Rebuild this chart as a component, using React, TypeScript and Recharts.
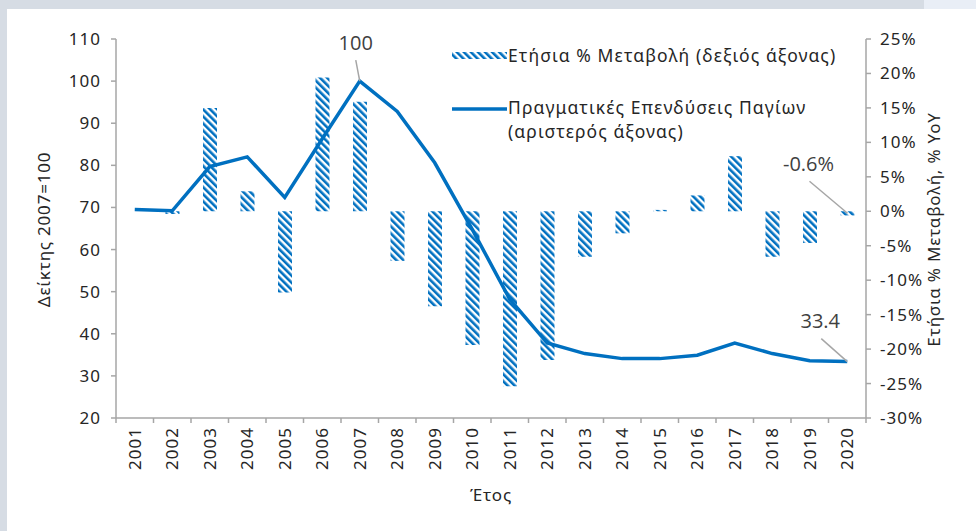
import { ComposedChart, Bar, Line, XAxis, YAxis, Legend, LabelList } from 'recharts';

const YEARS = [
  '2001', '2002', '2003', '2004', '2005', '2006', '2007', '2008', '2009', '2010',
  '2011', '2012', '2013', '2014', '2015', '2016', '2017', '2018', '2019', '2020',
];
// real fixed investment, index 2007=100 (left axis)
const INVESTMENT_INDEX = [
  69.5, 69.2, 79.7, 82.0, 72.4, 86.3, 100, 92.8, 80.6, 64.8,
  48.2, 37.8, 35.3, 34.1, 34.1, 34.9, 37.8, 35.3, 33.6, 33.4,
];
// annual % change (right axis)
const ANNUAL_CHANGE = [
  null, -0.4, 15.0, 2.9, -11.8, 19.4, 15.9, -7.2, -13.8, -19.4,
  -25.4, -21.6, -6.6, -3.2, 0.2, 2.3, 8.0, -6.6, -4.6, -0.6,
];
const LEFT_TICKS = [20, 30, 40, 50, 60, 70, 80, 90, 100, 110];
const RIGHT_TICKS = [-30, -25, -20, -15, -10, -5, 0, 5, 10, 15, 20, 25];

const data = YEARS.map((year, i) => ({
  year,
  index: INVESTMENT_INDEX[i],
  change: ANNUAL_CHANGE[i],
}));

const W = 976;
const H = 531;
const PLOT_LEFT = 116;
const PLOT_RIGHT = 866;
const PLOT_TOP = 39;
const PLOT_BOTTOM = 418;
const PLOT_MID_Y = (PLOT_TOP + PLOT_BOTTOM) / 2;
const BAND = (PLOT_RIGHT - PLOT_LEFT) / YEARS.length;
const LAST_CHANGE = ANNUAL_CHANGE[ANNUAL_CHANGE.length - 1];

const BLUE = '#0070C0';
const AXIS_GREY = '#A6A6A6';
const TEXT = '#262626';
const FONT = '"Noto Sans", sans-serif';
const LABEL_FONT = '"Open Sans", sans-serif';

const YearTick = (props: any) => {
  const { x, payload, index } = props;
  const top = PLOT_BOTTOM + 9;
  return (
    <g>
      <line x1={x - BAND / 2} x2={x - BAND / 2} y1={PLOT_BOTTOM} y2={PLOT_BOTTOM + 5} stroke={AXIS_GREY} strokeWidth={1.5} />
      {index === YEARS.length - 1 && (
        <line x1={x + BAND / 2} x2={x + BAND / 2} y1={PLOT_BOTTOM} y2={PLOT_BOTTOM + 5} stroke={AXIS_GREY} strokeWidth={1.5} />
      )}
      <text
        x={x}
        y={top}
        dy="0.36em"
        textAnchor="end"
        transform={`rotate(-90, ${x}, ${top})`}
        fill={TEXT}
        fontSize={17}
        fontFamily={FONT}
        letterSpacing={1}
      >
        {payload.value}
      </text>
    </g>
  );
};

const XTitle = () => (
  <text x={(PLOT_LEFT + PLOT_RIGHT) / 2} y={501} textAnchor="middle" fill={TEXT} fontSize={17} fontFamily={FONT} letterSpacing={0.8}>
    Έτος
  </text>
);

const LeftTitle = () => (
  <text
    x={50}
    y={PLOT_MID_Y + 1}
    textAnchor="middle"
    transform={`rotate(-90, 50, ${PLOT_MID_Y + 1})`}
    fill={TEXT}
    fontSize={17}
    fontFamily={FONT}
    letterSpacing={0.8}
  >
    Δείκτης 2007=100
  </text>
);

const RightTitle = () => (
  <text
    x={940}
    y={PLOT_MID_Y + 1}
    textAnchor="middle"
    transform={`rotate(-90, 940, ${PLOT_MID_Y + 1})`}
    fill={TEXT}
    fontSize={17}
    fontFamily={FONT}
    letterSpacing={0.8}
  >
    Ετήσια % Μεταβολή, % YoY
  </text>
);

const IndexLabel = (props: any) => {
  const { x, y, index } = props;
  if (index === 6) {
    return (
      <g>
        <line x1={x - 4} y1={y - 21} x2={x} y2={y} stroke={AXIS_GREY} strokeWidth={1.5} />
        <text x={x - 4} y={y - 31} textAnchor="middle" fill="#404040" fontSize={20} fontFamily={LABEL_FONT}>
          100
        </text>
      </g>
    );
  }
  if (index === YEARS.length - 1) {
    return (
      <g>
        <line x1={x - 26} y1={y - 23} x2={x} y2={y} stroke={AXIS_GREY} strokeWidth={1.5} />
        <text x={x - 27} y={y - 34} textAnchor="middle" fill="#404040" fontSize={20} fontFamily={LABEL_FONT}>
          {INVESTMENT_INDEX[index].toFixed(1)}
        </text>
      </g>
    );
  }
  return null;
};

const ChangeLabel = (props: any) => {
  const { x, y, width, height, value } = props;
  if (value !== LAST_CHANGE || x == null) return null;
  const cx = Number(x) + Number(width) / 2;
  const top = Math.min(Number(y), Number(y) + Number(height));
  return (
    <g>
      <line x1={cx - 38} y1={top - 30} x2={cx} y2={top + 2} stroke={AXIS_GREY} strokeWidth={1.5} />
      <text x={cx - 39} y={top - 40} textAnchor="middle" fill="#404040" fontSize={20} fontFamily={LABEL_FONT}>
        {`${value}%`}
      </text>
    </g>
  );
};

const ChartLegend = () => (
  <svg width={430} height={110} style={{ overflow: 'visible' }}>
    <rect x={2} y={12} width={55} height={7} fill="url(#stripes)" />
    <text x={58} y={21.5} fill={TEXT} fontSize={17.5} fontFamily={FONT} letterSpacing={1.1}>
      Ετήσια % Μεταβολή (δεξιός άξονας)
    </text>
    <line x1={2} x2={57} y1={69} y2={69} stroke={BLUE} strokeWidth={3.5} />
    <text x={58} y={74} fill={TEXT} fontSize={17.5} fontFamily={FONT} letterSpacing={1.1}>
      Πραγματικές Επενδύσεις Παγίων
    </text>
    <text x={58} y={97.5} fill={TEXT} fontSize={17.5} fontFamily={FONT} letterSpacing={1.1}>
      (αριστερός άξονας)
    </text>
  </svg>
);

export default function App() {
  return (
    <div style={{ position: 'absolute', left: 0, top: 0, width: W, height: H, background: '#fff', overflow: 'hidden' }}>
      <div style={{ position: 'absolute', left: 0, top: 0, width: 924, height: 9, background: '#D6DCE4' }} />
      <div style={{ position: 'absolute', left: 924, top: 0, width: W - 924, height: 9, background: '#E9EEF6' }} />
      <div style={{ position: 'absolute', left: 0, top: 0, width: 7, height: H, background: '#D6DCE4' }} />
      <div style={{ position: 'absolute', left: 0, top: 0 }}>
        <ComposedChart
          width={W}
          height={H}
          data={data}
          margin={{ top: PLOT_TOP, right: 0, bottom: 0, left: 0 }}
        >
          <defs>
            <pattern id="stripes" width="5" height="5" patternUnits="userSpaceOnUse" patternTransform="rotate(-45)">
              <rect width="5" height="5" fill="#fff" />
              <rect width="2.6" height="5" fill={BLUE} />
            </pattern>
          </defs>
          <XAxis
            dataKey="year"
            interval={0}
            height={H - PLOT_BOTTOM}
            axisLine={{ stroke: AXIS_GREY, strokeWidth: 1.5 }}
            tickLine={false}
            tick={<YearTick />}
            label={{ content: <XTitle /> }}
          />
          <YAxis
            yAxisId="left"
            width={PLOT_LEFT}
            domain={[20, 110]}
            ticks={LEFT_TICKS}
            interval={0}
            tickSize={5}
            tickMargin={10}
            axisLine={{ stroke: AXIS_GREY, strokeWidth: 1.5 }}
            tickLine={{ stroke: AXIS_GREY, strokeWidth: 1.5 }}
            tick={{ fill: TEXT, fontSize: 17, fontFamily: FONT, letterSpacing: 1 }}
            label={{ content: <LeftTitle /> }}
          />
          <YAxis
            yAxisId="right"
            orientation="right"
            width={W - PLOT_RIGHT}
            domain={[-30, 25]}
            ticks={RIGHT_TICKS}
            interval={0}
            tickSize={5}
            tickMargin={9}
            tickFormatter={(v: number) => `${v}%`}
            axisLine={{ stroke: AXIS_GREY, strokeWidth: 1.5 }}
            tickLine={{ stroke: AXIS_GREY, strokeWidth: 1.5 }}
            tick={{ fill: TEXT, fontSize: 17, fontFamily: FONT, letterSpacing: 1 }}
            label={{ content: <RightTitle /> }}
          />
          <Bar yAxisId="right" dataKey="change" fill="url(#stripes)" barSize={14} isAnimationActive={false}>
            <LabelList dataKey="change" content={<ChangeLabel />} />
          </Bar>
          <Line
            yAxisId="left"
            dataKey="index"
            type="linear"
            stroke={BLUE}
            strokeWidth={3.5}
            dot={false}
            activeDot={false}
            isAnimationActive={false}
          >
            <LabelList dataKey="index" content={<IndexLabel />} />
          </Line>
          <Legend
            layout="vertical"
            align="center"
            verticalAlign="middle"
            width={430}
            height={110}
            wrapperStyle={{ left: 450, top: 40 }}
            content={<ChartLegend />}
          />
        </ComposedChart>
      </div>
    </div>
  );
}
